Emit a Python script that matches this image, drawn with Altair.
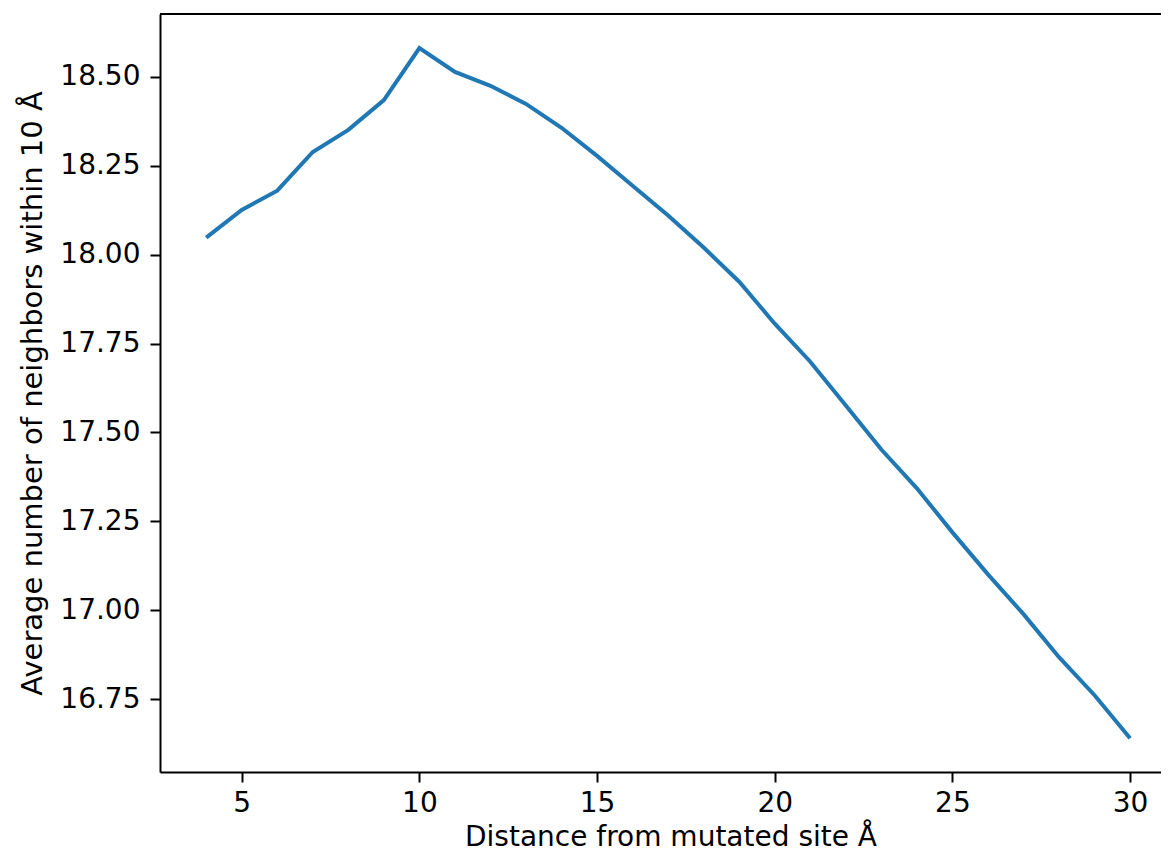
import altair as alt
import pandas as pd

distance = list(range(4, 31))
neighbors = [18.048, 18.126, 18.180, 18.289, 18.351, 18.435, 18.581, 18.514, 18.475,
             18.424, 18.357, 18.278, 18.194, 18.110, 18.020, 17.924, 17.806, 17.699,
             17.576, 17.452, 17.343, 17.219, 17.101, 16.989, 16.868, 16.761, 16.640]
x_ticks = [5, 10, 15, 20, 25, 30]
y_ticks = [16.75, 17.00, 17.25, 17.50, 17.75, 18.00, 18.25, 18.50]

df = pd.DataFrame({"d": distance, "n": neighbors})

W, H = 1001, 758
FONT = "DejaVu Sans"
LFS = 28

line = alt.Chart(df).mark_line(color="#1f77b4", strokeWidth=4, clip=True).encode(
    x=alt.X("d:Q", scale=alt.Scale(domain=[2.7, 30.87], nice=False, zero=False),
            axis=alt.Axis(values=x_ticks, title="Distance from mutated site Å",
                          grid=False, tickSize=10, tickWidth=2, tickColor="black",
                          domainColor="black", domainWidth=2,
                          labelFontSize=LFS, labelFont=FONT, labelColor="black",
                          labelPadding=7, titleFontSize=28, titleFont=FONT,
                          titleFontWeight="normal", titleColor="black",
                          titleBaseline="alphabetic", titleY=73, titleX=W * 0.5 + 10,
                          labelFlush=False)),
    y=alt.Y("n:Q", scale=alt.Scale(domain=[16.545, 18.677], nice=False, zero=False),
            axis=alt.Axis(values=y_ticks, format=".2f",
                          title="Average number of neighbors within 10 Å",
                          grid=False, tickSize=10, tickWidth=2, tickColor="black",
                          domainColor="black", domainWidth=2,
                          labelFontSize=LFS, labelFont=FONT, labelColor="black",
                          labelPadding=10, titleFontSize=29, titleFont=FONT,
                          titleFontWeight="normal", titleColor="black",
                          titleAngle=270, titleBaseline="alphabetic",
                          titleX=-119, titleY=H / 2,
                          labelFlush=False)),
)

top = alt.Chart(df).mark_rule(color="black", strokeWidth=2).encode(
    x=alt.value(0), x2=alt.value(W), y=alt.value(0)
)

chart = alt.layer(line, top).properties(
    width=W, height=H,
    autosize=alt.AutoSizeParams(type="none"),
    padding={"left": 152, "top": 6, "right": 0, "bottom": 80},
).configure_view(stroke=None).configure(background="white")

chart.save("out.html", embed_options={"renderer": "svg", "actions": False})
